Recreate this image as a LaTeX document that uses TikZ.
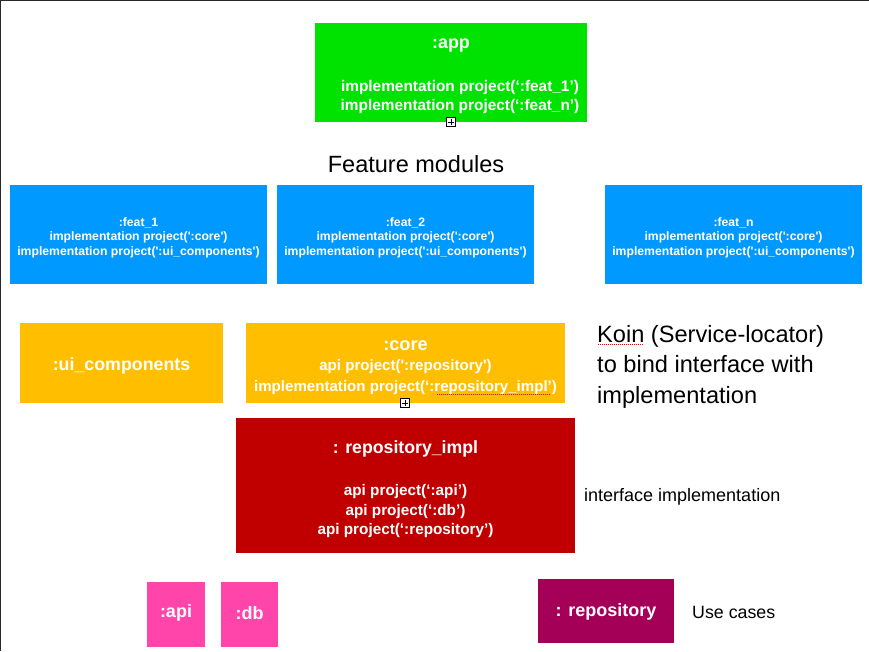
\documentclass[tikz,border=0pt]{standalone}
\usepackage{fontspec}
\setmainfont{Liberation Sans}
\definecolor{appgreen}{RGB}{0,226,0}
\definecolor{featblue}{RGB}{0,153,255}
\definecolor{coreorange}{RGB}{255,191,0}
\definecolor{impldred}{RGB}{192,0,0}
\definecolor{dbpink}{RGB}{255,68,170}
\definecolor{repomag}{RGB}{165,0,88}
\definecolor{edgegray}{RGB}{40,40,40}
\newcommand{\sq}{\textquotesingle}
\begin{document}
\begin{tikzpicture}[x=1pt,y=-1pt,
  modbox/.style={inner sep=0pt, outer sep=0pt, draw=none},
  wt/.style={text=white, inner sep=0pt, yshift=-2pt, font=\bfseries},
  bt/.style={text=black, inner sep=0pt},
  marker/.style={draw=black, fill=white, line width=0.6pt, minimum size=9pt, inner sep=0pt,
    path picture={\draw[line width=0.6pt] ([yshift=-1.5pt]path picture bounding box.north) -- ([yshift=1.5pt]path picture bounding box.south)
      ([xshift=1.5pt]path picture bounding box.west) -- ([xshift=-1.5pt]path picture bounding box.east);}},
  spell/.style={draw=red, densely dotted, line width=1pt}
]
\useasboundingbox (0,0) rectangle (869,651);
\fill[white] (0,0) rectangle (869,651);
\draw[edgegray, line width=1.5pt] (0.5,651) -- (0.5,0.5) -- (869,0.5);

% app
\node[modbox, fill=appgreen, minimum width=272pt, minimum height=99pt] (app) at (451,72.5) {};
\node[wt, font=\bfseries\fontsize{17.9}{20}\selectfont] (apptitle) at (451,44) {:app};
\node[wt, font=\bfseries\fontsize{15.4}{17}\selectfont] (appl1) at (460,86) {implementation project(‘:feat\_1’)};
\node[wt, font=\bfseries\fontsize{15.4}{17}\selectfont] (appl2) at (460,105) {implementation project(‘:feat\_n’)};
\node[marker] (m1) at (451,122) {};

\node[bt, font=\fontsize{23.5}{28}\selectfont] (featlabel) at (416,164) {Feature modules};

% features
\foreach \nm/\cx/\lbl in {f1/138.5/1, f2/405.5/2, fn/733.5/n}{
  \node[modbox, fill=featblue, minimum width=257pt, minimum height=99pt] (\nm) at (\cx,234.5) {};
  \node[wt, font=\bfseries\fontsize{12.2}{14}\selectfont] (\nm t) at (\cx,221) {:feat\_\lbl};
  \node[wt, font=\bfseries\fontsize{12.2}{14}\selectfont] (\nm a) at (\cx,235.5) {implementation project(\sq:core\sq)};
  \node[wt, font=\bfseries\fontsize{12.2}{14}\selectfont] (\nm b) at (\cx,250) {implementation project(\sq:ui\_components\sq)};
}

% ui components
\node[modbox, fill=coreorange, minimum width=203pt, minimum height=80pt] (ui) at (121.5,363) {};
\node[wt, font=\bfseries\fontsize{17.8}{20}\selectfont] (uit) at (121.5,364) {:ui\_components};

% core
\node[modbox, fill=coreorange, minimum width=319pt, minimum height=80pt] (core) at (405.5,363) {};
\node[wt, font=\bfseries\fontsize{18.2}{20}\selectfont] (coret) at (405.5,344) {:core};
\node[wt, font=\bfseries\fontsize{15.1}{17}\selectfont] (corea) at (405.5,365) {api project(\sq:repository\sq)};
\node[wt, font=\bfseries\fontsize{15.1}{17}\selectfont] (coreb) at (405.5,386) {implementation project(‘:repository\_impl’)};
\draw[spell] (437,394.5) -- (551,394.5);
\node[marker] (m2) at (405,403) {};

% Koin note
\node[bt, anchor=north west, align=left, font=\fontsize{23.6}{30.5}\selectfont] (koin) at (597,325) {Koin (Service-locator)\\to bind interface with\\implementation};
\draw[spell] (598,344.5) -- (644,344.5);

% repository impl
\node[modbox, fill=impldred, minimum width=339pt, minimum height=135pt] (impl) at (405.5,485.5) {};
\node[wt, font=\bfseries\fontsize{17.7}{20}\selectfont] (implt) at (405.5,447) {: repository\_impl};
\node[wt, font=\bfseries\fontsize{15.3}{17}\selectfont] (impla) at (405.5,490) {api project(‘:api’)};
\node[wt, font=\bfseries\fontsize{15.3}{17}\selectfont] (implb) at (405.5,509.5) {api project(‘:db’)};
\node[wt, font=\bfseries\fontsize{15.3}{17}\selectfont] (implc) at (405.5,529) {api project(‘:repository’)};
\node[bt, anchor=west, font=\fontsize{18}{20}\selectfont] (ifimpl) at (584,497) {interface implementation};

% bottom
\node[modbox, fill=dbpink, minimum width=58pt, minimum height=65pt] (api) at (176,614.5) {};
\node[wt, font=\bfseries\fontsize{18}{20}\selectfont] (apit) at (176,611) {:api};
\node[modbox, fill=dbpink, minimum width=57pt, minimum height=65pt] (db) at (249.5,614.5) {};
\node[wt, font=\bfseries\fontsize{18}{20}\selectfont] (dbt) at (249.5,611) {:db};
\node[modbox, fill=repomag, minimum width=136pt, minimum height=64pt] (repo) at (606,611) {};
\node[wt, font=\bfseries\fontsize{18}{20}\selectfont] (repot) at (606,610) {: repository};
\node[bt, anchor=west, font=\fontsize{17.8}{20}\selectfont] (usecases) at (692,612) {Use cases};
\end{tikzpicture}
\end{document}
